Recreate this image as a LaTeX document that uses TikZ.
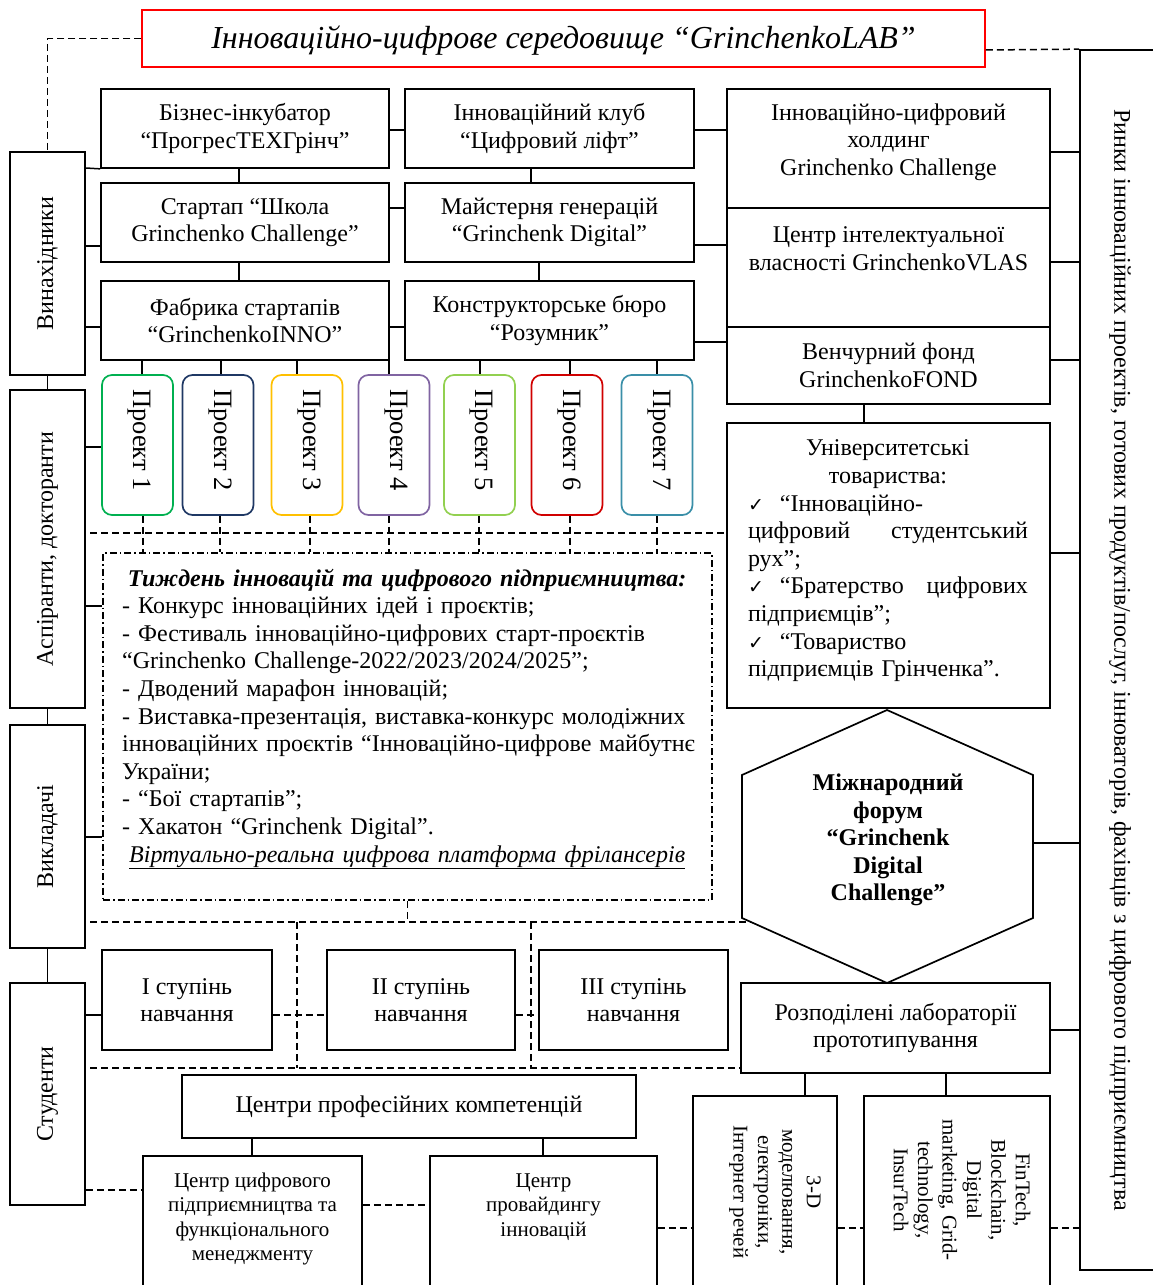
\documentclass[tikz,border=0pt]{standalone}
\usepackage{fontspec}
\usepackage{graphicx}
\setmainfont{Liberation Serif}
\newfontfamily\dejavu{DejaVu Sans}
\setlength{\parindent}{0pt}
\definecolor{pone}{HTML}{00B050}
\definecolor{ptwo}{HTML}{1F3864}
\definecolor{pthree}{HTML}{FFC000}
\definecolor{pfour}{HTML}{8064A2}
\definecolor{pfive}{HTML}{92D050}
\definecolor{psix}{HTML}{D00000}
\definecolor{pseven}{HTML}{3A8FA8}
\newcommand{\fs}{\fontsize{24}{27.6}\selectfont}
\newcommand{\fsm}{\fontsize{21}{24.4}\selectfont}
\newcommand{\chk}{{\dejavu\fontsize{19}{20}\selectfont ✓}}
\begin{document}
\begin{tikzpicture}[x=1pt,y=-1pt,
  box/.style={draw, line width=1.7pt, inner sep=0pt, align=center, font=\fs},
  lbl/.style={inner sep=0pt, align=center, font=\fs},
  conn/.style={line width=1.5pt},
  dsh/.style={line width=1.5pt, dash pattern=on 7pt off 4pt},
  ddot/.style={line width=1.5pt, dash pattern=on 7pt off 3pt on 1.5pt off 3pt},
  proj/.style={draw, line width=1.7pt, rounded corners=10pt, minimum width=71pt, minimum height=140pt, inner sep=0pt},
  ptxt/.style={rotate=-90, inner sep=0pt, font=\fontsize{26.5}{28}\selectfont}]
\useasboundingbox (0,0) rectangle (1152,1285);

% title
\node[box, draw=red, line width=1.5pt, minimum width=843pt, minimum height=57pt] (title) at (563.5,38.5) {};
\node[lbl, font=\fontsize{32}{36}\selectfont\itshape] (titlet) at (563.5,41) {Інноваційно-цифрове середовище “GrinchenkoLAB”};

% left column
\node[box, minimum width=75pt, minimum height=223pt] (vin) at (47.5,263.5) {};
\node[lbl, rotate=90] (vint) at (vin) {Винахідники};
\node[box, minimum width=75pt, minimum height=318pt] (asp) at (47.5,549) {};
\node[lbl, rotate=90] (aspt) at (asp) {Аспіранти, докторанти};
\node[box, minimum width=75pt, minimum height=223pt] (vyk) at (47.5,836.5) {};
\node[lbl, rotate=90] (vykt) at (vyk) {Викладачі};
\node[box, minimum width=75pt, minimum height=222pt] (stu) at (47.5,1094) {};
\node[lbl, rotate=90] (stut) at (stu) {Студенти};

% middle boxes
\node[box, minimum width=288pt, minimum height=79pt] (biz) at (245,128.5) {Бізнес-інкубатор\\“ПрогресТЕХГрінч”};
\node[box, minimum width=289pt, minimum height=79pt] (klub) at (549.5,128.5) {Інноваційний клуб\\“Цифровий ліфт”};
\node[box, minimum width=288pt, minimum height=79pt] (start) at (245,222.5) {Стартап “Школа\\Grinchenko Challenge”};
\node[box, minimum width=289pt, minimum height=79pt] (mayst) at (549.5,222.5) {Майстерня генерацій\\“Grinchenk Digital”};
\node[box, minimum width=288pt, minimum height=79pt] (fab) at (245,320.5) {Фабрика стартапів\\“GrinchenkoINNO”};
\node[box, minimum width=289pt, minimum height=79pt] (kb) at (549.5,320.5) {Конструкторське бюро\\“Розумник”};

% right stack
\node[box, minimum width=323pt, minimum height=119pt] (hold) at (888.5,148.5) {};
\node[lbl] (holdt) at (888.5,142) {Інноваційно-цифровий\\холдинг\\Grinchenko Challenge};
\node[box, minimum width=323pt, minimum height=119pt] (vlas) at (888.5,267.5) {};
\node[lbl] (vlast) at (888.5,249) {Центр інтелектуальної\\власності GrinchenkoVLAS};
\node[box, minimum width=323pt, minimum height=77pt] (fond) at (888.5,365.5) {Венчурний фонд\\GrinchenkoFOND};
\node[box, minimum width=323pt, minimum height=285pt] (univ) at (888.5,565.5) {};
\node[lbl, align=left, text width=280pt] (univt) at (888,561) {%
\makebox[280pt]{Університетські}\\
\makebox[280pt]{товариства:}\\
\chk\hspace{16pt}“Інноваційно-\\
цифровий\hfill студентський\\
рух”;\\
\chk\hspace{16pt}“Братерство\hfill цифрових\\
підприємців”;\\
\chk\hspace{16pt}“Товариство\\
підприємців Грінченка”.};

% hexagon
\coordinate (hxT) at (887,710);
\coordinate (hxUR) at (1033,775);
\coordinate (hxLR) at (1033,918);
\coordinate (hxB) at (887,983);
\coordinate (hxLL) at (742,918);
\coordinate (hxUL) at (742,775);
\draw[line width=1.7pt] (hxT) -- (hxUR) -- (hxLR) -- (hxB) -- (hxLL) -- (hxUL) -- cycle;
\node[lbl, font=\fs\bfseries] (hex) at (888,840) {Міжнародний\\форум\\“Grinchenk\\Digital\\Challenge”};
\coordinate (hexE) at (1033,843);
\coordinate (hexW) at (751,922);

% right big box
\node[box, minimum width=85pt, minimum height=1220pt] (rbox) at (1122.5,660) {};
\node[lbl, rotate=-90] (rboxt) at (1120,660) {Ринки інноваційних проектів, готових продуктів/послуг, інноваторів, фахівців з цифрового підприємництва};

% projects
\node[proj, draw=pone] (p1) at (137.5,445) {};
\node[proj, draw=ptwo] (p2) at (218,445) {};
\node[proj, draw=pthree] (p3) at (307,445) {};
\node[proj, draw=pfour] (p4) at (394,445) {};
\node[proj, draw=pfive] (p5) at (479.5,445) {};
\node[proj, draw=psix] (p6) at (567,445) {};
\node[proj, draw=pseven] (p7) at (657,445) {};
\node[ptxt] (p1t) at (139,440) {Проект 1};
\node[ptxt] (p2t) at (220,440) {Проект 2};
\node[ptxt] (p3t) at (309,440) {Проект 3};
\node[ptxt] (p4t) at (396,440) {Проект 4};
\node[ptxt] (p5t) at (481,440) {Проект 5};
\node[ptxt] (p6t) at (569,440) {Проект 6};
\node[ptxt] (p7t) at (659,440) {Проект 7};

% week box
\node[ddot, draw, minimum width=609pt, minimum height=347pt, inner sep=0pt] (tyzh) at (407.5,726.5) {};
\node[inner sep=0pt, anchor=west, align=left, text width=620pt, font=\fs] (tyzht) at (122,719) {%
\makebox[570pt]{\bfseries\itshape Тиждень інновацій та цифрового підприємництва:}\\
- Конкурс інноваційних ідей і проєктів;\\
- Фестиваль інноваційно-цифрових старт-проєктів\\
“Grinchenko Challenge-2022/2023/2024/2025”;\\
- Дводений марафон інновацій;\\
- Виставка-презентація, виставка-конкурс молодіжних\\
інноваційних проєктів “Інноваційно-цифрове майбутнє\\
України;\\
- “Бої стартапів”;\\
- Хакатон “Grinchenk Digital”.\\
\makebox[570pt]{\itshape\underline{Віртуально-реальна цифрова платформа фрілансерів}}};

% study levels
\node[box, minimum width=170pt, minimum height=100pt] (s1) at (187,1000) {І ступінь\\навчання};
\node[box, minimum width=188pt, minimum height=100pt] (s2) at (421,1000) {ІІ ступінь\\навчання};
\node[box, minimum width=189pt, minimum height=100pt] (s3) at (633.5,1000) {ІІІ ступінь\\навчання};

% bottom
\node[box, minimum width=309pt, minimum height=90pt] (rozp) at (895.5,1028) {Розподілені лабораторії\\прототипування};
\node[box, minimum width=454pt, minimum height=63pt] (cpk) at (409,1106.5) {Центри професійних компетенцій};
\node[box, minimum width=219pt, minimum height=144pt] (cd) at (252.5,1228) {};
\node[lbl, font=\fsm] (cdt) at (252.5,1219) {Центр цифрового\\підприємництва та\\функціонального\\менеджменту};
\node[box, minimum width=227pt, minimum height=144pt] (cp) at (543.5,1228) {};
\node[lbl, font=\fsm] (cpt) at (543.5,1207) {Центр\\провайдингу\\інновацій};
\node[box, minimum width=144pt, minimum height=204pt] (td) at (765,1198) {};
\node[lbl, rotate=-90, font=\fsm] (tdt) at (775,1192) {3-D\\моделювання,\\електроніки,\\Інтернет речей};
\node[box, minimum width=186pt, minimum height=204pt] (ft) at (957,1198) {};
\node[lbl, rotate=-90, font=\fsm] (ftt) at (962,1190) {FinTech,\\Blockchain,\\Digital\\marketing, Grid-\\technology,\\InsurTech};

% solid connectors
\draw[conn] (vin.east |- 0,168) -- (biz.south west);
\draw[conn] (vin.east |- 0,246) -- (start.west |- 0,246);
\draw[conn] (vin.east |- 0,327) -- (fab.west |- 0,327);
\draw[conn] (vin.south) -- (asp.north);
\draw[conn] (asp.south) -- (vyk.north);
\draw[conn] (vyk.south) -- (stu.north);
\draw[conn] (biz.east |- 0,130) -- (klub.west |- 0,130);
\draw[conn] (start.east |- 0,208) -- (mayst.west |- 0,208);
\draw[conn] (fab.east |- 0,327) -- (kb.west |- 0,327);
\draw[conn] (239,0 |- biz.south) -- (239,0 |- start.north);
\draw[conn] (239,0 |- start.south) -- (239,0 |- fab.north);
\draw[conn] (531,0 |- klub.south) -- (531,0 |- mayst.north);
\draw[conn] (539,0 |- mayst.south) -- (539,0 |- kb.north);
\draw[conn] (klub.east |- 0,130) -- (hold.west |- 0,130);
\draw[conn] (mayst.east |- 0,245) -- (vlas.west |- 0,245);
\draw[conn] (kb.east |- 0,342) -- (fond.west |- 0,342);
\draw[conn] (hold.east |- 0,152) -- (rbox.west |- 0,152);
\draw[conn] (vlas.east |- 0,262) -- (rbox.west |- 0,262);
\draw[conn] (fond.east |- 0,360) -- (rbox.west |- 0,360);
\draw[conn] (univ.east |- 0,553) -- (rbox.west |- 0,553);
\draw[conn] (hexE) -- (rbox.west |- hexE);
\draw[conn] (rozp.east |- 0,1030) -- (rbox.west |- 0,1030);
\draw[conn] (864,0 |- fond.south) -- (864,0 |- univ.north);
\draw[conn] (142,0 |- fab.south) -- (142,0 |- p1.north);
\draw[conn] (221,0 |- fab.south) -- (221,0 |- p2.north);
\draw[conn] (297,0 |- fab.south) -- (297,0 |- p3.north);
\draw[conn] (389,0 |- fab.south) -- (389,0 |- p4.north);
\draw[conn] (480,0 |- kb.south) -- (480,0 |- p5.north);
\draw[conn] (570,0 |- kb.south) -- (570,0 |- p6.north);
\draw[conn] (657,0 |- kb.south) -- (657,0 |- p7.north);
\draw[conn] (asp.east |- 0,447) -- (p1.west |- 0,447);
\draw[conn] (asp.east |- 0,606) -- (tyzh.west |- 0,606);
\draw[conn] (vyk.east |- 0,837) -- (tyzh.west |- 0,837);
\draw[conn] (stu.east |- 0,1015) -- (s1.west |- 0,1015);
\draw[conn] (805,0 |- rozp.south) -- (805,0 |- td.north);
\draw[conn] (946,0 |- rozp.south) -- (946,0 |- ft.north);
\draw[conn] (252,0 |- cpk.south) -- (252,0 |- cd.north);
\draw[conn] (543,0 |- cpk.south) -- (543,0 |- cp.north);

% dashed connectors
\coordinate (dl1) at (90,533);
\coordinate (dl2) at (90,922);
\coordinate (dl3) at (90,1068);
\draw[dsh] (title.west) -| (vin.north);
\draw[dsh] (title.east |- 0,50) -- (rbox.north west);
\draw[dsh] (dl1) -- (univ.west |- dl1);
\draw[dsh] (143,0 |- p1.south) -- (143,0 |- tyzh.north);
\draw[dsh] (220,0 |- p2.south) -- (220,0 |- tyzh.north);
\draw[dsh] (310,0 |- p3.south) -- (310,0 |- tyzh.north);
\draw[dsh] (389,0 |- p4.south) -- (389,0 |- tyzh.north);
\draw[dsh] (479,0 |- p5.south) -- (479,0 |- tyzh.north);
\draw[dsh] (570,0 |- p6.south) -- (570,0 |- tyzh.north);
\draw[dsh] (657,0 |- p7.south) -- (657,0 |- tyzh.north);
\draw[dsh] (tyzh.south) -- (tyzh.south |- dl2);
\draw[dsh] (dl2) -- (hexW);
\draw[dsh] (297,0 |- dl2) -- (297,0 |- dl3);
\draw[dsh] (531,0 |- dl2) -- (531,0 |- dl3);
\draw[dsh] (dl3) -- (rozp.west |- dl3);
\draw[dsh] (s1.east |- 0,1015) -- (s2.west |- 0,1015);
\draw[dsh] (s2.east |- 0,1015) -- (s3.west |- 0,1015);
\draw[dsh] (stu.east |- 0,1190) -- (cd.west |- 0,1190);
\draw[dsh] (cd.east |- 0,1205) -- (cp.west |- 0,1205);
\draw[dsh] (cp.east |- 0,1228) -- (td.west |- 0,1228);
\draw[dsh] (td.east |- 0,1228) -- (ft.west |- 0,1228);
\draw[dsh] (ft.east |- 0,1228) -- (rbox.west |- 0,1228);
\end{tikzpicture}
\end{document}
